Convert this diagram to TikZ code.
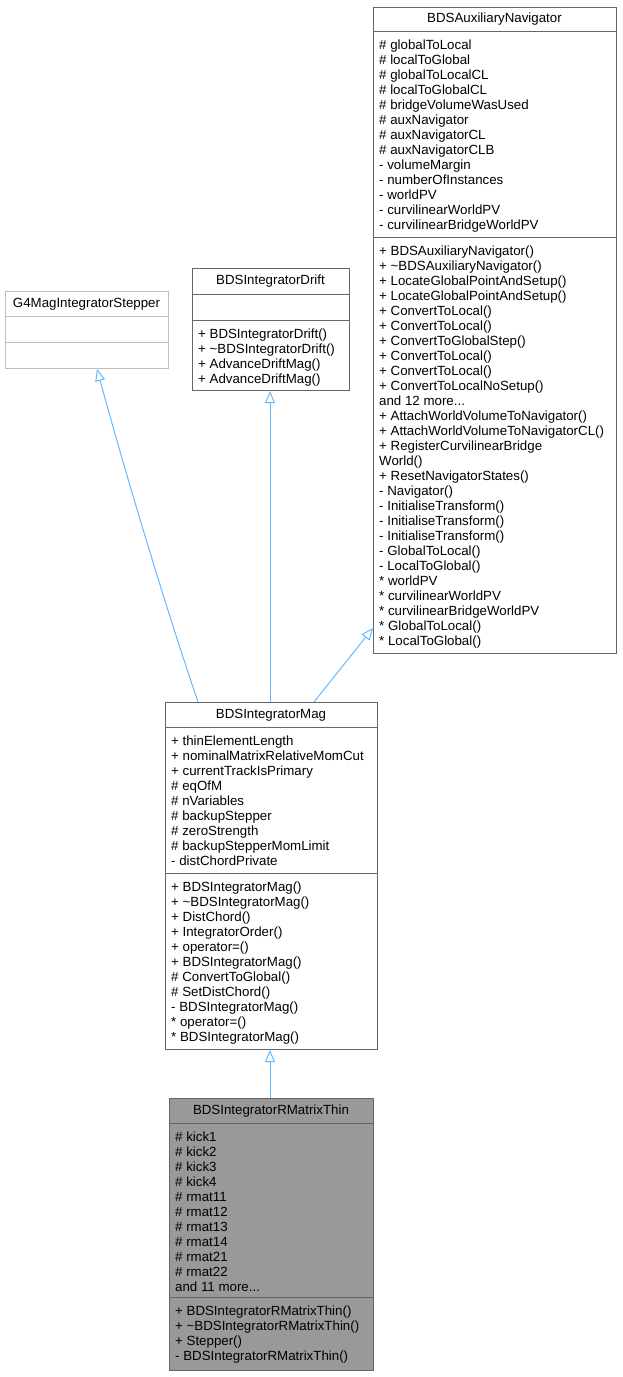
\documentclass[tikz,border=0pt]{standalone}
\usepackage{fontspec}
\setmainfont{Liberation Sans}
\usetikzlibrary{arrows.meta,calc}
\definecolor{edgeblue}{HTML}{63B8FF}
\definecolor{boxgray}{HTML}{666666}
\definecolor{lightgray}{HTML}{BFBFBF}
\definecolor{thinfill}{HTML}{999999}
\newcommand{\tl}{\textasciitilde}
\begin{document}
\begin{tikzpicture}[x=1pt,y=-1pt,
  cls/.style={draw=boxgray,line width=1pt,anchor=north west,inner sep=0pt},
  txt/.style={anchor=north west,inner sep=0pt,align=left,font=\fontsize{13.3}{15}\selectfont},
  ttl/.style={inner sep=0pt,font=\fontsize{13.3}{15}\selectfont},
  inherit/.style={draw=edgeblue,line width=1pt,-{Triangle[open,length=12pt,width=10pt]}}]
\useasboundingbox (0,0) rectangle (622,1377);
% G4MagIntegratorStepper
\node[cls,draw=lightgray,minimum width=163pt,minimum height=77pt] (g4) at (5,291) {};
\draw[lightgray,line width=1pt] (5,316) -- (168,316) (5,342) -- (168,342);
\node[ttl] (g4t) at (86.5,304) {G4MagIntegratorStepper};
% BDSIntegratorDrift
\node[cls,minimum width=157pt,minimum height=122pt] (drift) at (192,268) {};
\draw[boxgray,line width=1pt] (192,294) -- (349,294) (192,320) -- (349,320);
\node[ttl] (driftt) at (270.5,281) {BDSIntegratorDrift};
\node[txt] (driftm) at (198,329) {+ BDSIntegratorDrift()\\+ \tl BDSIntegratorDrift()\\+ AdvanceDriftMag()\\+ AdvanceDriftMag()};
% BDSAuxiliaryNavigator
\node[cls,minimum width=243pt,minimum height=646pt] (nav) at (373,7) {};
\draw[boxgray,line width=1pt] (373,31) -- (616,31) (373,237) -- (616,237);
\node[ttl] (navt) at (494.5,19) {BDSAuxiliaryNavigator};
\node[txt] (nava) at (379,40) {\# globalToLocal\\\# localToGlobal\\\# globalToLocalCL\\\# localToGlobalCL\\\# bridgeVolumeWasUsed\\\# auxNavigator\\\# auxNavigatorCL\\\# auxNavigatorCLB\\- volumeMargin\\- numberOfInstances\\- worldPV\\- curvilinearWorldPV\\- curvilinearBridgeWorldPV};
\node[txt] (navm) at (379,246) {+ BDSAuxiliaryNavigator()\\+ \tl BDSAuxiliaryNavigator()\\+ LocateGlobalPointAndSetup()\\+ LocateGlobalPointAndSetup()\\+ ConvertToLocal()\\+ ConvertToLocal()\\+ ConvertToGlobalStep()\\+ ConvertToLocal()\\+ ConvertToLocal()\\+ ConvertToLocalNoSetup()\\and 12 more...\\+ AttachWorldVolumeToNavigator()\\+ AttachWorldVolumeToNavigatorCL()\\+ RegisterCurvilinearBridge\\World()\\+ ResetNavigatorStates()\\- Navigator()\\- InitialiseTransform()\\- InitialiseTransform()\\- InitialiseTransform()\\- GlobalToLocal()\\- LocalToGlobal()\\* worldPV\\* curvilinearWorldPV\\* curvilinearBridgeWorldPV\\* GlobalToLocal()\\* LocalToGlobal()};
% BDSIntegratorMag
\node[cls,minimum width=212pt,minimum height=347pt] (mag) at (165,702) {};
\draw[boxgray,line width=1pt] (165,727) -- (377,727) (165,873) -- (377,873);
\node[ttl] (magt) at (271,715) {BDSIntegratorMag};
\node[txt] (maga) at (171,736) {+ thinElementLength\\+ nominalMatrixRelativeMomCut\\+ currentTrackIsPrimary\\\# eqOfM\\\# nVariables\\\# backupStepper\\\# zeroStrength\\\# backupStepperMomLimit\\- distChordPrivate};
\node[txt] (magm) at (171,882) {+ BDSIntegratorMag()\\+ \tl BDSIntegratorMag()\\+ DistChord()\\+ IntegratorOrder()\\+ operator=()\\+ BDSIntegratorMag()\\\# ConvertToGlobal()\\\# SetDistChord()\\- BDSIntegratorMag()\\* operator=()\\* BDSIntegratorMag()};
% BDSIntegratorRMatrixThin
\node[cls,fill=thinfill,minimum width=204pt,minimum height=272pt] (thin) at (169,1098) {};
\draw[boxgray,line width=1pt] (169,1123) -- (373,1123) (169,1297) -- (373,1297);
\node[ttl] (thint) at (271,1111) {BDSIntegratorRMatrixThin};
\node[txt] (thina) at (175,1132) {\# kick1\\\# kick2\\\# kick3\\\# kick4\\\# rmat11\\\# rmat12\\\# rmat13\\\# rmat14\\\# rmat21\\\# rmat22\\and 11 more...};
\node[txt] (thinm) at (175,1306) {+ BDSIntegratorRMatrixThin()\\+ \tl BDSIntegratorRMatrixThin()\\+ Stepper()\\- BDSIntegratorRMatrixThin()};
% inheritance
\draw[inherit] ($(mag.north west)+(33,0)$) .. controls (170,620) and (130,490) .. ($(g4.south west)+(92,0)$);
\draw[inherit] ($(mag.north west)+(105,0)$) -- ($(drift.south west)+(78,0)$);
\draw[inherit] ($(mag.north west)+(149,0)$) -- ($(nav.north west)+(0,621)$);
\draw[inherit] ($(thin.north west)+(101,0)$) -- ($(mag.south west)+(105,0)$);
\end{tikzpicture}
\end{document}
